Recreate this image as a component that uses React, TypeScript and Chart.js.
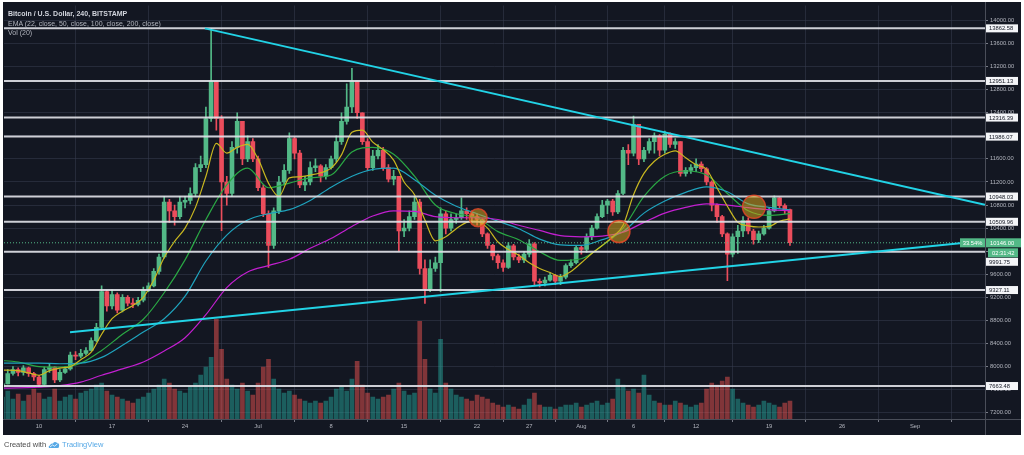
import React, { useEffect, useRef } from "react";
import { Chart, registerables } from "chart.js";

Chart.register(...registerables);

// ---------- DATA (x = days from 10 Jun 2019) ----------
const CANDLE_START_DAY = -3.5;
const CANDLE_STEP_DAYS = 0.5;
const FIRST_OPEN = 7650;

const CLOSES = [
  7700, 7880, 7950, 7900, 7980, 7880, 7820,
  7690, 7950, 7990, 7770, 7900, 7960,
  8200, 8180, 8230, 8280, 8450, 8680,
  9300, 9050, 9250, 8980, 9200, 9100,
  9080, 9150, 9330, 9400, 9650, 9900,
  10850, 10700, 10600, 10850, 10880, 11000,
  11450, 11500, 12300, 12950, 12300, 11200,
  11000, 11800, 12250, 11600, 11900, 11600,
  11100, 10650, 10100, 10700, 11200, 11400,
  11950, 11700, 11150, 11200, 11450, 11480,
  11300, 11450, 11600, 11900, 12250, 12500,
  12950, 12400, 11900, 11450, 11650, 11750,
  11450, 11250, 11300, 10350, 10400, 10600,
  10850, 9700, 9350, 9700, 9800, 10650,
  10400, 10550, 10580, 10700, 10650, 10600,
  10550, 10300, 10100, 9920, 9800, 9720,
  10095, 9900, 9850, 9950, 10130, 9480,
  9450, 9500, 9580, 9480, 9550, 9750,
  9800, 10065, 10030, 10250, 10400, 10600,
  10800, 10870, 10680, 11000, 11750, 11700,
  12200, 11600, 11750, 11900, 12000, 11750,
  12030, 11850, 11900, 11350, 11400, 11450,
  11510, 11430, 11200, 10800, 10600, 10300,
  9950, 10250, 10350, 10530, 10350, 10200,
  10300, 10400, 10700, 10925, 10790, 10720, 10146,
];

const HIGHS = [
  7800, 7950, 8000, 7980, 8020, 7990, 7900,
  7850, 7990, 8050, 8000, 7950, 8000,
  8250, 8260, 8300, 8330, 8500, 8750,
  9400, 9320, 9330, 9280, 9250, 9230,
  9180, 9200, 9380, 9450, 9700, 9950,
  10950, 10900, 10800, 10950, 10950, 11100,
  11520, 11650, 12500, 13862, 12950, 12350,
  11300, 11900, 12400, 12250, 12000, 11950,
  11650, 11150, 10700, 10750, 11300, 11500,
  12050, 11980, 11750, 11300, 11550, 11600,
  11500, 11500, 11650, 12000, 12400, 12900,
  13170, 12950, 12400, 11950, 11750, 11850,
  11800, 11500, 11400, 11300, 10550, 10700,
  10950, 10900, 9850, 9850, 9900, 10750,
  10700, 10650, 10650, 10925, 10750, 10700,
  10650, 10560, 10320, 10120, 9950, 9850,
  10150, 10120, 9950, 10000, 10200, 10150,
  9520, 9550, 9620, 9600, 9600, 9780,
  9850, 10100, 10100, 10300, 10450, 10650,
  10880, 10900, 10900, 11050, 11800, 11850,
  12340, 12200, 11800, 11950, 12050, 12020,
  12080, 12050, 11950, 11900, 11450, 11500,
  11600, 11550, 11450, 11220, 10820, 10620,
  10320, 10300, 10450, 10600, 10580, 10380,
  10350, 10450, 10750, 10960, 10930, 10820, 10730,
];

const LOWS = [
  7620, 7700, 7850, 7840, 7850, 7830, 7760,
  7650, 7680, 7900, 7720, 7740, 7880,
  7940, 8120, 8150, 8200, 8270, 8430,
  8650, 8960, 9000, 8930, 8950, 9050,
  9020, 9050, 9120, 9300, 9380, 9600,
  9880, 10500, 10450, 10560, 10750, 10820,
  10950, 11380, 11450, 12250, 12100, 10355,
  10800, 10950, 11700, 11500, 11550, 11550,
  11050, 10600, 9720, 10050, 10650, 11150,
  11350, 11600, 11100, 11050, 11150, 11380,
  11200, 11250, 11420, 11550, 11850, 12200,
  12400, 12300, 11850, 11400, 11400, 11600,
  11400, 11200, 11150, 10000, 10250, 10350,
  10550, 9600, 9095, 9300, 9650, 9300,
  10300, 10350, 10480, 10550, 10550, 10500,
  10450, 10250, 10050, 9850, 9700, 9650,
  9700, 9850, 9800, 9800, 9900, 9420,
  9380, 9400, 9480, 9420, 9420, 9520,
  9720, 9780, 9950, 9980, 10200, 10380,
  10580, 10650, 10620, 10650, 10980, 11500,
  11650, 11500, 11550, 11700, 11700, 11650,
  11700, 11800, 11780, 11300, 11300, 11350,
  11380, 11380, 11150, 10700, 10500, 10250,
  9490, 9900, 9960, 10250, 10300, 10120,
  10150, 10280, 10380, 10680, 10740, 10650, 10100,
];

const VOLUMES = [
  22, 28, 20, 25, 18, 24, 30,
  26, 20, 22, 30, 18, 22,
  24, 20, 26, 28, 30, 34,
  36, 28, 24, 22, 20, 18,
  16, 20, 22, 26, 30, 34,
  40, 36, 30, 28, 26, 32,
  36, 44, 52, 62, 100, 70,
  40, 34, 30, 36, 28, 24,
  36, 52, 60, 40, 30, 26,
  28, 24, 20, 18, 16, 18,
  16, 18, 22, 30, 32, 28,
  40, 58, 34, 26, 22, 20,
  22, 24, 30, 36, 28, 24,
  26, 98, 60, 30, 26, 80,
  36, 30, 24, 22, 20, 18,
  24, 22, 20, 16, 14, 12,
  14, 12, 10, 14, 20, 26,
  14, 12, 12, 10, 12, 14,
  14, 16, 12, 14, 16, 18,
  14, 16, 20, 40, 34, 28,
  30, 26, 44, 24, 18, 16,
  14, 14, 18, 16, 14, 12,
  14, 16, 30, 36, 34, 38,
  42, 30, 20, 16, 14, 12,
  14, 18, 16, 14, 12, 16, 18,
];

const EMA_FAST_START = -4;
const EMA_FAST_STEP = 1;
const EMA22 = [
  7940, 7940, 7930, 7890, 7850, 7930, 7975, 8000, 8120, 8250,
  8560, 8830, 8960, 9060, 9200, 9500, 9890, 10170, 10400, 10760,
  11300, 11870, 11700, 11800, 11850, 11600, 11180, 10950, 11270, 11290,
  11320, 11360, 11440, 11670, 12060, 12100, 11890, 11760, 11580, 11200,
  10980, 10540, 10180, 10250, 10390, 10500, 10520, 10400, 10160, 10030,
  9930, 9800, 9700, 9630, 9560, 9650, 9800, 9960, 10100, 10250,
  10450, 10980, 11350, 11560, 11680, 11740, 11620, 11500, 11420, 11100,
  10780, 10500, 10440, 10420, 10430, 10520, 10560,
];

const EMA_SLOW_START = -4;
const EMA_SLOW_STEP = 2;
const EMA50 = [
  8110, 8080, 8000, 7990, 8060, 8280, 8560, 8820, 9280, 9850,
  10550, 11150, 11440, 11100, 11180, 11270, 11320, 11720, 11800, 11680,
  11300, 10800, 10650, 10580, 10340, 10200, 9990, 9840, 9870, 10100,
  10400, 10950, 11300, 11390, 11320, 11000, 10700, 10620, 10650,
];
const EMA100 = [
  8060, 8060, 8060, 8050, 8060, 8160, 8370, 8600, 8830, 9220,
  9830, 10280, 10540, 10650, 10720, 10880, 11110, 11300, 11420, 11440,
  11240, 10970, 10780, 10650, 10520, 10390, 10210, 10110, 10100, 10200,
  10340, 10660, 10870, 11020, 11115, 11030, 10820, 10760, 10715,
];
const EMA200 = [
  7625, 7630, 7645, 7670, 7730, 7850, 7960, 8080, 8270, 8500,
  8900, 9370, 9640, 9750, 9860, 10050, 10220, 10430, 10610, 10700,
  10690, 10600, 10580, 10580, 10550, 10450, 10360, 10270, 10250, 10260,
  10330, 10500, 10660, 10760, 10820, 10800, 10755, 10720, 10700,
];

const LEVELS = [13862.58, 12951.13, 12316.39, 11986.07, 10948.03, 10509.96, 9991.75, 9327.11, 7663.48];
const PRICE_TICKS = [7200, 7600, 8000, 8400, 8800, 9200, 9600, 10000, 10400, 10800, 11200, 11600, 12000, 12400, 12800, 13200, 13600, 14000];
const TIME_TICKS = [0, 7, 14, 21, 28, 35, 42, 47, 52, 57, 63, 70, 77, 84];
const TIME_LABELS = ["10", "17", "24", "Jul", "8", "15", "22", "27", "Aug", "6", "12", "19", "26", "Sep"];

const DOWN_TREND_DAYS = [15.9, 90.7];
const DOWN_TREND_PRICES = [13862, 10805];
const UP_TREND_DAYS = [2.97, 90.7];
const UP_TREND_PRICES = [8594, 10183];

const MARKER_DAYS = [42.1, 55.6, 68.55];
const MARKER_PRICES = [10580, 10340, 10770];
const MARKER_SIZES = [9, 11, 11.5];

const LAST_PRICE = 10146;
const CHANGE_LABEL = "33.54%";
const COUNTDOWN = "02:31:42";

const X_MIN = -3.36;
const X_MAX = 90.7;
const Y_MIN = 7092;
const Y_MAX = 14259;

// ---------- STYLE ----------
const UP = "#53b987";
const DOWN = "#eb4d5c";
const BG = "#131722";
const GRID = "rgba(54,60,78,0.55)";
const TEXT = "#b2b5be";
const FONT = '"Liberation Sans", Arial, sans-serif';
const AXIS_PX = 5.8;

const framePlugin = {
  id: "frame",
  beforeDraw(chart: any) {
    const { ctx, width, height } = chart;
    ctx.save();
    ctx.fillStyle = "#ffffff";
    ctx.fillRect(0, 0, width, height);
    ctx.fillStyle = BG;
    ctx.fillRect(3, 2, 1018, 433);
    ctx.restore();
  },
  afterDraw(chart: any) {
    const { ctx, chartArea, scales } = chart;
    const ys = scales.y;
    const ax = chartArea.right;
    ctx.save();
    ctx.strokeStyle = "#4a4e59";
    ctx.lineWidth = 1;
    ctx.beginPath();
    ctx.moveTo(3, chartArea.bottom + 0.5);
    ctx.lineTo(1021, chartArea.bottom + 0.5);
    ctx.moveTo(ax + 0.5, 2);
    ctx.lineTo(ax + 0.5, 435);
    ctx.stroke();

    ctx.font = `${AXIS_PX}px ${FONT}`;
    ctx.textBaseline = "middle";
    ctx.textAlign = "left";
    const priceY = ys.getPixelForValue(LAST_PRICE);
    const countY = priceY + 10;
    const bh = 8;
    LEVELS.forEach((lv) => {
      let py = ys.getPixelForValue(lv);
      [priceY, countY].forEach((f) => {
        if (Math.abs(py - f) < bh + 1) py = f + bh + 1;
      });
      ctx.fillStyle = "#f4f5f8";
      ctx.fillRect(ax + 1, py - bh / 2, 32, bh);
      ctx.fillStyle = "#131722";
      ctx.fillText(lv.toFixed(2), ax + 4, py + 0.5);
    });

    ctx.fillStyle = UP;
    ctx.fillRect(ax + 1, priceY - 4.5, 35, 9);
    ctx.fillRect(ax - 25, priceY - 4.5, 25, 9);
    ctx.fillRect(ax + 3, countY - 4.5, 30, 9);
    ctx.fillStyle = "#ffffff";
    ctx.fillText(LAST_PRICE.toFixed(2), ax + 5, priceY + 0.5);
    ctx.fillText(COUNTDOWN, ax + 7, countY + 0.5);
    ctx.textAlign = "center";
    ctx.fillText(CHANGE_LABEL, ax - 12.5, priceY + 0.5);
    ctx.restore();
  },
};

export default function App() {
  const ref = useRef<HTMLCanvasElement | null>(null);

  useEffect(() => {
    const canvas = ref.current;
    if (!canvas) return;
    const days = CLOSES.map((_, i) => CANDLE_START_DAY + i * CANDLE_STEP_DAYS);
    const opens = CLOSES.map((_, i) => (i === 0 ? FIRST_OPEN : CLOSES[i - 1]));
    const colors = CLOSES.map((c, i) => (c >= opens[i] ? UP : DOWN));
    const volColors = CLOSES.map((c, i) => (c >= opens[i] ? "rgba(38,166,154,0.5)" : "rgba(239,83,80,0.5)"));

    const wicks = days.map((d, i) => ({
      x: d,
      y: [Math.min(LOWS[i], opens[i], CLOSES[i]), Math.max(HIGHS[i], opens[i], CLOSES[i])],
    }));
    const bodies = days.map((d, i) => ({ x: d, y: [opens[i], CLOSES[i]] }));
    const vols = days.map((d, i) => ({ x: d, y: VOLUMES[i] }));

    const fast = (arr: number[]) => arr.map((v, i) => ({ x: EMA_FAST_START + i * EMA_FAST_STEP, y: v }));
    const slow = (arr: number[]) => arr.map((v, i) => ({ x: EMA_SLOW_START + i * EMA_SLOW_STEP, y: v }));

    const lineDs = (data: any[], color: string, width: number, order: number, extra: any = {}) => ({
      type: "line",
      data,
      borderColor: color,
      borderWidth: width,
      pointRadius: 0,
      fill: false,
      order,
      yAxisID: "y",
      ...extra,
    });

    const levelDatasets = LEVELS.map((lv) =>
      lineDs(
        [
          { x: X_MIN, y: lv },
          { x: X_MAX, y: lv },
        ],
        "rgba(222,224,230,0.92)",
        2,
        6
      )
    );

    const chart = new Chart(canvas, {
      type: "bar",
      data: {
        datasets: [
          {
            type: "bar",
            data: vols,
            backgroundColor: volColors,
            barThickness: 4,
            grouped: false,
            yAxisID: "yv",
            order: 20,
          },
          {
            type: "bar",
            data: wicks,
            backgroundColor: colors,
            barThickness: 1,
            grouped: false,
            yAxisID: "y",
            order: 12,
          },
          {
            type: "bar",
            data: bodies,
            backgroundColor: colors,
            barThickness: 4,
            minBarLength: 1,
            grouped: false,
            yAxisID: "y",
            order: 11,
          },
          lineDs(slow(EMA200), "#c21fd0", 1.2, 9, { cubicInterpolationMode: "monotone" }),
          lineDs(slow(EMA100), "#1fa3bd", 1.2, 9, { cubicInterpolationMode: "monotone" }),
          lineDs(slow(EMA50), "#2aa844", 1.2, 9, { cubicInterpolationMode: "monotone" }),
          lineDs(fast(EMA22), "#c9b820", 1.2, 8, { cubicInterpolationMode: "monotone" }),
          ...levelDatasets,
          lineDs(
            [
              { x: X_MIN, y: LAST_PRICE },
              { x: X_MAX, y: LAST_PRICE },
            ],
            UP,
            1,
            5,
            { borderDash: [1, 2] }
          ),
          lineDs(
            DOWN_TREND_DAYS.map((d, i) => ({ x: d, y: DOWN_TREND_PRICES[i] })),
            "#22d3e6",
            2,
            4
          ),
          lineDs(
            UP_TREND_DAYS.map((d, i) => ({ x: d, y: UP_TREND_PRICES[i] })),
            "#22d3e6",
            2,
            4
          ),
          {
            type: "line",
            data: MARKER_DAYS.map((d, i) => ({ x: d, y: MARKER_PRICES[i] })),
            showLine: false,
            pointRadius: MARKER_SIZES,
            pointBackgroundColor: "rgba(214,164,30,0.55)",
            pointBorderColor: "rgba(226,72,40,0.85)",
            pointBorderWidth: 1.5,
            yAxisID: "y",
            order: 1,
          } as any,
        ] as any,
      },
      options: {
        animation: false,
        responsive: false,
        devicePixelRatio: 1,
        events: [],
        layout: { autoPadding: false, padding: { left: 4, top: 4, right: 3, bottom: 21 } },
        plugins: { legend: { display: false }, tooltip: { enabled: false } },
        scales: {
          x: {
            type: "linear",
            min: X_MIN,
            max: X_MAX,
            offset: false,
            afterBuildTicks: (scale: any) => {
              scale.ticks = TIME_TICKS.map((v) => ({ value: v }));
            },
            afterFit: (scale: any) => {
              scale.height = 15;
            },
            ticks: {
              autoSkip: false,
              maxRotation: 0,
              padding: 1,
              color: TEXT,
              font: { size: AXIS_PX, family: FONT },
              callback: (v: any) => TIME_LABELS[TIME_TICKS.indexOf(Number(v))] ?? "",
            },
            grid: { color: GRID, tickColor: "#787b86", tickLength: 3, drawTicks: true },
            border: { display: false },
          },
          y: {
            type: "linear",
            position: "right",
            min: Y_MIN,
            max: Y_MAX,
            afterBuildTicks: (scale: any) => {
              scale.ticks = PRICE_TICKS.map((v) => ({ value: v }));
            },
            afterFit: (scale: any) => {
              scale.width = 36;
            },
            ticks: {
              padding: 2,
              color: TEXT,
              font: { size: AXIS_PX, family: FONT },
              callback: (v: any) => Number(v).toFixed(2),
            },
            grid: { color: GRID, tickColor: "#787b86", tickLength: 3, drawTicks: true },
            border: { display: false },
          },
          yv: {
            type: "linear",
            display: false,
            min: 0,
            max: Math.max(...VOLUMES) * 4.15,
            grid: { display: false },
          },
        },
      } as any,
      plugins: [framePlugin],
    });
    return () => chart.destroy();
  }, []);

  return (
    <div style={{ position: "relative", width: 1024, height: 455, background: "#fff", overflow: "hidden" }}>
      <style>{`body{margin:0;}`}</style>
      <canvas ref={ref} width={1024} height={455} style={{ position: "absolute", left: 0, top: 0, width: 1024, height: 455 }} />
      <div
        style={{
          position: "absolute",
          left: 8,
          top: 9,
          fontFamily: FONT,
          fontSize: 7,
          lineHeight: "9.5px",
          color: TEXT,
          whiteSpace: "nowrap",
        }}
      >
        <div style={{ fontWeight: 700, color: "#d1d4dc" }}>Bitcoin / U.S. Dollar, 240, BITSTAMP</div>
        <div>EMA (22, close, 50, close, 100, close, 200, close)</div>
        <div>Vol (20)</div>
      </div>
      <div
        style={{
          position: "absolute",
          left: 4,
          top: 440,
          fontFamily: FONT,
          fontSize: 7.5,
          lineHeight: "10px",
          color: "#4c4c4c",
          whiteSpace: "nowrap",
          display: "flex",
          alignItems: "center",
          gap: 2,
        }}
      >
        <span>Created with</span>
        <svg width="12" height="8" viewBox="0 0 12 8">
          <path d="M1 7 Q0 5 2 4.5 Q2.5 2 5 2.5 Q6.5 0 9 1.8 Q11.8 2.5 11 5.5 Q11 7 9.5 7 Z" fill="#57a9e6" />
          <path d="M2 6 L4.5 4 L6.5 5.2 L9.5 2.8" stroke="#ffffff" strokeWidth="0.8" fill="none" />
        </svg>
        <span style={{ color: "#57a9e6" }}>TradingView</span>
      </div>
    </div>
  );
}
